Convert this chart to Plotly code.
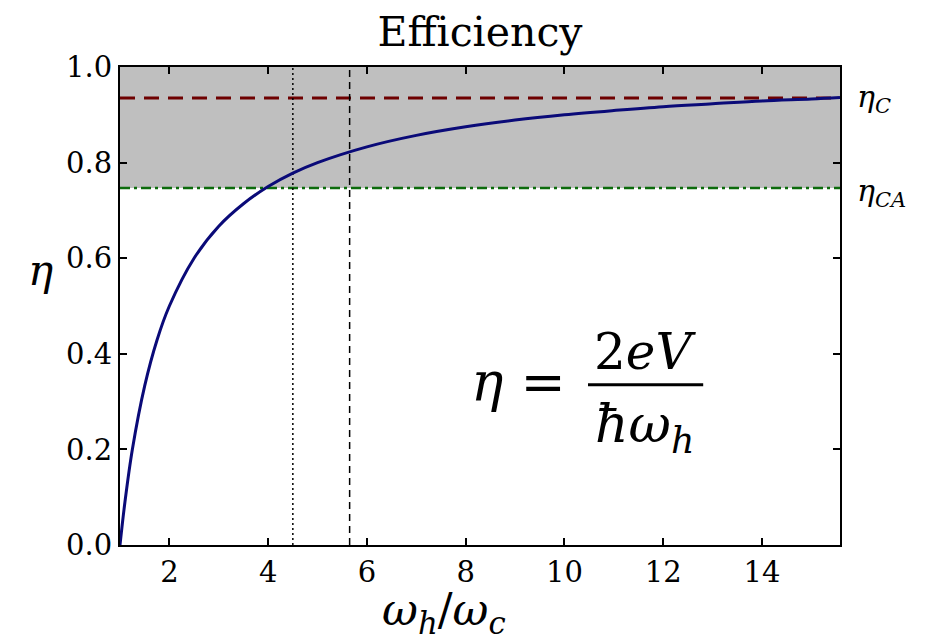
import plotly.graph_objects as go

# Data
ratio = [1.0, 1.1, 1.25, 1.5, 1.75, 2.0, 2.5, 3.0, 3.5, 4.0, 4.5, 5.0, 6.0, 7.0, 8.0,
         9.0, 10.0, 11.0, 12.0, 13.0, 14.0, 15.0, 15.58]
eta = [0.0, 0.09, 0.2, 0.333, 0.429, 0.5, 0.6, 0.667, 0.714, 0.75, 0.778, 0.8, 0.833,
       0.857, 0.875, 0.889, 0.9, 0.909, 0.917, 0.923, 0.929, 0.933, 0.936]
eta_C = 0.935
eta_CA = 0.747
x_dotted = 4.5
x_dashed = 5.65
x_range = [1.0, 15.58]
y_range = [0.0, 1.0]
x_ticks = [2, 4, 6, 8, 10, 12, 14]
y_ticks = [0.0, 0.2, 0.4, 0.6, 0.8, 1.0]

SERIF = "DejaVu Serif"

fig = go.Figure()

# gray band
fig.add_shape(type="rect", xref="x", yref="y", x0=x_range[0], x1=x_range[1],
              y0=eta_CA, y1=y_range[1], fillcolor="#bfbfbf", line_width=0, layer="below")

fig.add_trace(go.Scatter(x=x_range, y=[eta_C, eta_C], mode="lines",
                         line=dict(color="#6e0000", width=3, dash="15px,9px"),
                         showlegend=False, hoverinfo="skip"))
fig.add_trace(go.Scatter(x=x_range, y=[eta_CA, eta_CA], mode="lines",
                         line=dict(color="#0b6b0b", width=2.5, dash="10px,4px,3px,4px"),
                         showlegend=False, hoverinfo="skip"))
fig.add_trace(go.Scatter(x=[x_dotted, x_dotted], y=y_range, mode="lines",
                         line=dict(color="black", width=1.5, dash="2px,3px"),
                         showlegend=False, hoverinfo="skip"))
fig.add_trace(go.Scatter(x=[x_dashed, x_dashed], y=y_range, mode="lines",
                         line=dict(color="black", width=1.5, dash="7px,5px"),
                         showlegend=False, hoverinfo="skip"))
fig.add_trace(go.Scatter(x=ratio, y=eta, mode="lines", line_shape="spline",
                         line=dict(color="#0a0a78", width=3),
                         showlegend=False, hoverinfo="skip"))

tick_font = dict(family=SERIF, size=29, color="black")
axis_common = dict(showgrid=False, zeroline=False, showline=True, linecolor="black",
                   linewidth=2, mirror="allticks", ticks="inside", ticklen=7,
                   tickwidth=1.5, tickcolor="black")

fig.update_xaxes(range=x_range, tickvals=x_ticks, tickfont=tick_font, **axis_common)
fig.update_yaxes(range=y_range, tickvals=y_ticks, tickformat=".1f", tickfont=tick_font,
                 **axis_common)

fig.update_layout(
    width=939, height=631,
    margin=dict(l=112, r=107, t=59, b=94),
    plot_bgcolor="white", paper_bgcolor="white",
    title=dict(text="Efficiency", x=(480 - 8) / 939, xanchor="center",
               y=1 - 24 / 631, yanchor="middle",
               font=dict(family=SERIF, size=41, color="black")),
    font=dict(family=SERIF, size=20, color="black"),
)

ann = [
    dict(text="<i>ω<sub>h</sub></i>/<i>ω<sub>c</sub></i>", x=0.45, y=-0.142, xref="paper", yref="paper",
         xanchor="center", yanchor="middle", size=44),
    dict(text="<i>η</i>", x=-0.111, y=0.575, xref="paper", yref="paper",
         xanchor="center", yanchor="middle", size=42),
    dict(text="<i>η<sub>C</sub></i>", x=1.021, y=eta_C, xref="paper", yref="y",
         xanchor="left", yanchor="middle", size=30),
    dict(text="<i>η<sub>CA</sub></i>", x=1.021, y=eta_CA - 0.01, xref="paper", yref="y",
         xanchor="left", yanchor="middle", size=30),
    dict(text="<i>η</i> =", x=0.553, y=0.339, xref="paper", yref="paper",
         xanchor="center", yanchor="middle", size=54),
    dict(text="2<i>eV</i>", x=0.729, y=0.404, xref="paper", yref="paper",
         xanchor="center", yanchor="middle", size=50),
    dict(text="<i>ħω<sub>h</sub></i>", x=0.729, y=0.245, xref="paper", yref="paper",
         xanchor="center", yanchor="middle", size=52),
]
for a in ann:
    size = a.pop("size")
    fig.add_annotation(showarrow=False, font=dict(family=SERIF, size=size, color="black"), **a)

fig.add_shape(type="line", xref="paper", yref="paper", x0=0.65, x1=0.81,
              y0=0.335, y1=0.335, line=dict(color="black", width=3))

fig.write_html("out.html")
